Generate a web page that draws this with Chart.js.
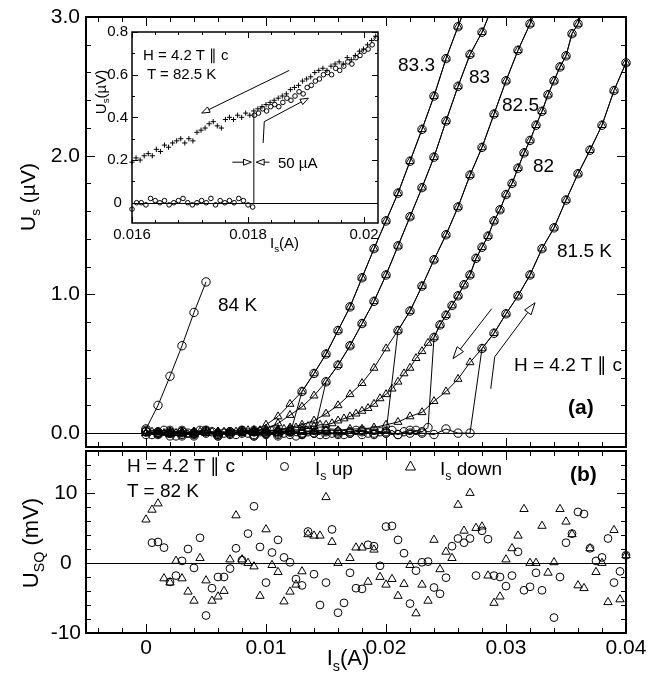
<!DOCTYPE html>
<html><head><meta charset="utf-8">
<script src="https://cdn.jsdelivr.net/npm/chart.js@4.4.1/dist/chart.umd.min.js"></script>
<style>
html,body{margin:0;padding:0;background:#fff;}
#wrap{position:relative;width:657px;height:683px;overflow:hidden;background:#fff;font-family:"Liberation Sans",Arial,Helvetica,sans-serif;color:#000;}
canvas{position:absolute;}
.t{position:absolute;line-height:1;white-space:nowrap;font-size:19px;}
.t sub{font-size:0.65em;vertical-align:-0.4em;line-height:0;}
.s15{font-size:15px;}
.b{font-weight:bold;font-size:21px;}
.rot{transform:translate(-50%,-50%) rotate(-90deg);}
.hc{transform:translateX(-50%);}
</style></head><body>
<div id="wrap">
<canvas id="cTop" width="657" height="480" style="left:0;top:-10px"></canvas>
<canvas id="cBot" width="657" height="263" style="left:0;top:420px"></canvas>
<canvas id="cIns" width="310" height="240" style="left:80px;top:16px"></canvas>

<div class="t" style="left:398px;top:54.5px">83.3</div>
<div class="t" style="left:469px;top:66.5px">83</div>
<div class="t" style="left:502px;top:94.5px">82.5</div>
<div class="t" style="left:533px;top:155.5px">82</div>
<div class="t" style="left:557px;top:240.5px">81.5 K</div>
<div class="t" style="left:218px;top:294.5px">84 K</div>
<div class="t" style="left:514px;top:354.5px">H = 4.2 T ∥ c</div>
<div class="t b" style="left:568px;top:396px">(a)</div>

<div class="t" style="left:127px;top:455.5px">H = 4.2 T ∥ c</div>
<div class="t" style="left:127px;top:480.5px">T = 82 K</div>
<div style="position:absolute;left:280px;top:461.5px;width:9px;height:9px;box-sizing:border-box;border:1px solid #000;border-radius:50%"></div>
<div class="t" style="left:315px;top:458.5px">I<sub>s</sub> up</div>
<svg style="position:absolute;left:404px;top:460px" width="13" height="12"><polygon points="6.5,1 11.5,10 1.5,10" fill="none" stroke="#000" stroke-width="1"/></svg>
<div class="t" style="left:440px;top:458.5px">I<sub>s</sub> down</div>
<div class="t b" style="left:570px;top:463px">(b)</div>

<div class="t s15" style="left:143px;top:47px">H = 4.2 T ∥ c</div>
<div class="t s15" style="left:147px;top:66px">T = 82.5 K</div>
<div class="t s15" style="left:278px;top:155px">50 µA</div>
<div class="t s15 rot" style="left:100px;top:92px">U<sub>s</sub>(µV)</div>
<div class="t s15" style="left:270px;top:235px">I<sub>s</sub>(A)</div>

<div class="t rot" style="left:27px;top:197px;font-size:21px">U<sub>s</sub> (µV)</div>
<div class="t rot" style="left:31px;top:543px;font-size:22px">U<sub>SQ</sub> (mV)</div>
<div class="t hc" style="left:348px;top:647px;font-size:22px">I<sub>s</sub>(A)</div>
</div>
<script>
// ---------------- DATA ----------------
// Panel (a): U_s (µV) vs I_s (A); "up" = circles (I_s increasing), "down" = triangles
const I_84 = [0, 0.001, 0.002, 0.003, 0.004, 0.005];
const U_84_up = [0.03, 0.20, 0.41, 0.63, 0.87, 1.09];

const I_833 = [0,0.001,0.002,0.003,0.004,0.005,0.006,0.007,0.008,0.009,0.010,0.011,0.012,0.013,0.014,0.015,0.016,0.017,0.018,0.019,0.020,0.021,0.022,0.023,0.024,0.025,0.026,0.027];
const U_833_down = [0.00,0.01,-0.01,0.00,0.01,0.00,0.01,0.00,0.01,0.02,0.06,0.12,0.21,0.30,0.43,0.57,0.74,0.91,1.12,1.33,1.53,1.73,1.96,2.19,2.43,2.70,2.93,3.16];
const U_833_up = [0.02,-0.01,0.01,-0.02,0.00,0.02,-0.01,0.00,0.01,-0.02,0.00,0.01,-0.01,0.30,0.43,0.57,0.74,0.91,1.12,1.33,1.53,1.73,1.96,2.19,2.43,2.70,2.93,3.16];

const I_83 = [0,0.001,0.002,0.003,0.004,0.005,0.006,0.007,0.008,0.009,0.010,0.011,0.012,0.013,0.014,0.015,0.016,0.017,0.018,0.019,0.020,0.021,0.022,0.023,0.024,0.025,0.026,0.027,0.028,0.029];
const U_83_down = [0.00,0.01,0.00,-0.01,0.01,0.00,0.01,0.00,0.01,0.02,0.03,0.07,0.13,0.19,0.27,0.37,0.49,0.63,0.79,0.95,1.14,1.35,1.56,1.77,1.99,2.25,2.50,2.73,2.89,3.10];
const U_83_up = [0.01,0.00,0.02,-0.01,0.00,0.01,-0.02,0.01,0.00,0.02,-0.01,0.00,0.01,-0.01,0.00,0.37,0.49,0.63,0.79,0.95,1.14,1.35,1.56,1.77,1.99,2.25,2.50,2.73,2.89,3.10];

const I_825 = [0,0.001,0.002,0.003,0.004,0.005,0.006,0.007,0.008,0.009,0.010,0.011,0.012,0.013,0.014,0.015,0.016,0.017,0.018,0.019,0.020,0.021,0.022,0.023,0.024,0.025,0.026,0.027,0.028,0.029,0.030,0.031,0.032,0.033];
const U_825_down = [0.00,0.01,0.00,0.01,-0.01,0.00,0.01,0.00,0.01,0.00,0.01,0.02,0.04,0.06,0.09,0.14,0.20,0.28,0.36,0.47,0.61,0.74,0.88,1.06,1.25,1.43,1.63,1.86,2.06,2.30,2.54,2.76,2.95,3.17];
const U_825_up = [-0.01,0.01,0.00,0.02,-0.02,0.01,0.00,-0.01,0.02,0.01,0.00,-0.02,0.01,0.00,0.02,-0.01,0.00,0.01,-0.01,0.02,0.00,0.74,0.88,1.06,1.25,1.43,1.63,1.86,2.06,2.30,2.54,2.76,2.95,3.17];

const I_82 = [0,0.0005,0.001,0.0015,0.002,0.0025,0.003,0.0035,0.004,0.0045,0.005,0.0055,0.006,0.0065,0.007,0.0075,0.008,0.0085,0.009,0.0095,0.010,0.0105,0.011,0.0115,0.012,0.0125,0.013,0.0135,0.014,0.0145,0.015,0.0155,0.016,0.0165,0.017,0.0175,0.018,0.0185,0.019,0.0195,0.020,0.0205,0.021,0.0215,0.022,0.0225,0.023,0.0235,0.024,0.0245,0.025,0.0255,0.026,0.0265,0.027,0.0275,0.028,0.0285,0.029,0.0295,0.030,0.0305,0.031,0.0315,0.032,0.0325,0.033,0.0335,0.034,0.0345,0.035,0.0355,0.036,0.0365];
const U_82_down = [0.00,0.01,-0.01,0.00,0.01,0.00,0.01,-0.01,0.00,0.01,0.00,0.01,0.00,0.01,0.00,0.01,0.01,0.02,0.01,0.02,0.02,0.02,0.03,0.03,0.03,0.04,0.04,0.05,0.05,0.06,
  0.06,0.07,0.09,0.105,0.12,0.14,0.16,0.18,0.21,0.25,0.28,0.32,0.37,0.43,0.47,0.54,0.59,0.65,
  0.69,0.78,0.85,0.92,0.99,1.07,1.14,1.26,1.34,1.42,1.53,1.61,1.72,1.80,1.91,2.02,2.11,2.22,2.32,2.44,2.54,2.64,2.72,2.88,2.95,3.08];
const U_82_up = [0.01,-0.01,0.00,0.02,0.00,-0.02,0.01,0.00,-0.01,0.02,0.00,0.01,-0.02,0.00,0.01,-0.01,0.02,0.00,-0.01,0.01,0.00,0.02,-0.01,0.00,0.01,-0.02,0.00,0.01,0.00,-0.01,0.02,0.00,0.01,-0.01,0.00,0.02,0.01,0.00,-0.01,0.01,0.00,0.02,-0.01,0.01,0.00,0.02,0.01,0.04,
  0.69,0.78,0.85,0.92,0.99,1.07,1.14,1.26,1.34,1.42,1.53,1.61,1.72,1.80,1.91,2.02,2.11,2.22,2.32,2.44,2.54,2.64,2.72,2.88,2.95,3.08];

const I_815 = [0,0.001,0.002,0.003,0.004,0.005,0.006,0.007,0.008,0.009,0.010,0.011,0.012,0.013,0.014,0.015,0.016,0.017,0.018,0.019,0.020,0.021,0.022,0.023,0.024,0.025,0.026,0.027,0.028,0.029,0.030,0.031,0.032,0.033,0.034,0.035,0.036,0.037,0.038,0.039,0.040];
const U_815_down = [0.00,0.01,-0.01,0.00,0.01,0.00,-0.01,0.01,0.00,0.01,0.00,0.01,0.01,0.02,0.01,0.02,0.02,0.03,0.03,0.04,0.06,0.08,0.12,0.15,0.23,0.30,0.39,0.51,0.61,0.72,0.86,0.99,1.14,1.33,1.48,1.68,1.87,2.04,2.22,2.47,2.67];
const U_815_up = [0.01,0.00,-0.02,0.01,0.00,0.02,-0.01,0.00,0.01,-0.02,0.00,0.01,0.02,-0.01,0.00,0.01,-0.01,0.00,0.02,0.00,0.01,-0.01,0.02,0.00,-0.01,0.03,0.00,0.00,0.61,0.72,0.86,0.99,1.14,1.33,1.48,1.68,1.87,2.04,2.22,2.47,2.67];

// Inset: T = 82.5 K
const insDownI = [0.01600,0.01607,0.01614,0.01621,0.01628,0.01635,0.01642,0.01649,0.01656,0.01663,0.01670,0.01677,0.01684,0.01691,0.01698,0.01705,0.01712,0.01719,0.01726,0.01733,0.01740,0.01747,0.01754,0.01761,0.01768,0.01775,0.01782,0.01789,0.01796,0.01803,0.01810,0.01817,0.01824,0.01831,0.01838,0.01845,0.01852,0.01859,0.01866,0.01873,0.01880,0.01887,0.01894,0.01901,0.01908,0.01915,0.01922,0.01929,0.01936,0.01943,0.01950,0.01957,0.01964,0.01971,0.01978,0.01985,0.01992,0.01999,0.02006,0.02013,0.02020];
const insDownU = [0.19,0.21,0.20,0.22,0.23,0.22,0.25,0.24,0.27,0.26,0.28,0.29,0.30,0.28,0.30,0.29,0.33,0.34,0.35,0.37,0.38,0.36,0.35,0.39,0.40,0.39,0.41,0.40,0.42,0.41,0.43,0.44,0.45,0.46,0.47,0.48,0.49,0.50,0.51,0.53,0.54,0.55,0.57,0.58,0.59,0.61,0.62,0.63,0.62,0.64,0.65,0.66,0.65,0.68,0.67,0.69,0.71,0.72,0.74,0.76,0.78];
const insUpI = [0.01600,0.01608,0.01616,0.01624,0.01632,0.01640,0.01648,0.01656,0.01664,0.01672,0.01680,0.01688,0.01696,0.01704,0.01712,0.01720,0.01728,0.01736,0.01744,0.01752,0.01760,0.01768,0.01776,0.01784,0.01792,0.01800,0.01808,
  0.01811,0.01818,0.01825,0.01832,0.01839,0.01846,0.01853,0.01860,0.01867,0.01874,0.01881,0.01888,0.01895,0.01902,0.01909,0.01916,0.01923,0.01930,0.01937,0.01944,0.01951,0.01958,0.01965,0.01972,0.01979,0.01986,0.01993,0.02000,0.02007,0.02014,0.02021];
const insUpU = [-0.03,0.00,0.00,-0.01,0.02,0.01,0.00,0.01,-0.01,0.00,0.01,0.02,0.00,-0.01,0.00,0.01,0.00,0.02,-0.01,0.01,0.00,0.01,0.00,0.02,0.01,-0.01,-0.02,
  0.41,0.42,0.44,0.43,0.45,0.46,0.45,0.47,0.49,0.48,0.50,0.52,0.51,0.54,0.55,0.57,0.58,0.60,0.61,0.60,0.63,0.62,0.64,0.66,0.65,0.68,0.69,0.71,0.72,0.74,0.77];
const insJumpI = [0.01810, 0.01810];
const insJumpU = [0.00, 0.42];

// Panel (b): U_SQ (mV) vs I_s (A), T = 82 K
const botI = [0,0.0005,0.001,0.0015,0.002,0.0025,0.003,0.0035,0.004,0.0045,0.005,0.0055,0.006,0.0065,0.007,0.0075,0.008,0.0085,0.009,0.0095,0.010,0.0105,0.011,0.0115,0.012,0.0125,0.013,0.0135,0.014,0.0145,0.015,0.0155,0.016,0.0165,0.017,0.0175,0.018,0.0185,0.019,0.0195,0.020,0.0205,0.021,0.0215,0.022,0.0225,0.023,0.0235,0.024,0.0245,0.025,0.0255,0.026,0.0265,0.027,0.0275,0.028,0.0285,0.029,0.0295,0.030,0.0305,0.031,0.0315,0.032,0.0325,0.033,0.0335,0.034,0.0345,0.035,0.0355,0.036,0.0365,0.037,0.0375,0.038,0.0385,0.039,0.0395,0.040];
const botUp = [null,2.9,3.0,2.2,-2.7,-1.8,0.3,2.0,-0.7,3.6,-7.5,-3.6,-2.0,-2.0,-0.8,2.1,0.4,4.2,8.1,2.3,-2.8,1.5,3.3,0.8,0.1,-2.3,-3.2,4.5,-1.6,-6.0,-2.8,4.8,-7.1,-5.7,-1.4,-3.6,-3.7,2.6,2.4,-0.4,5.2,5.3,3.3,1.4,-5.8,-1.1,0.1,0.2,-3.5,-4.4,-2.1,2.4,3.5,2.9,3.5,-1.8,4.6,3.4,-1.8,-2.0,-3.3,-1.8,1.6,-3.9,-3.4,-1.4,-3.9,null,-7.8,-2.0,2.9,4.2,7.3,7.0,2.1,0.3,0.8,3.5,-2.8,-1.2,1.1];
const botDown = [6.2,7.6,8.5,-2.2,-2.8,0.3,-2.2,-4.1,-5.4,0.7,-2.5,-5.4,-4.8,-4.0,0.5,6.8,0.5,0.0,-0.5,-4.7,4.8,-0.3,-1.3,-5.5,-4.1,-3.1,-1.2,4.1,3.9,3.9,9.4,3.0,0.0,null,0.7,2.2,2.2,-2.7,1.9,-2.0,-3.1,-2.3,-4.7,-3.0,-0.3,-7.2,-3.1,-5.4,3.3,-0.9,1.6,0.7,8.3,4.6,10.0,5.0,5.2,-1.8,-5.7,-4.8,0.5,2.1,3.9,7.7,0.0,0.0,5.3,-1.4,0.1,7.7,5.9,4.1,-3.2,-3.6,2.1,-1.3,0.0,-5.6,4.7,-5.2,1.1];

// Tick labels
const topYTicks = [0, 1, 2, 3];
const topYTickLabels = ['0.0', '1.0', '2.0', '3.0'];
const botXTicks = [0, 0.01, 0.02, 0.03, 0.04];
const botXTickLabels = ['0', '0.01', '0.02', '0.03', '0.04'];
const botYTicks = [-10, 0, 10];
const botYTickLabels = ['-10', '0', '10'];
const insXTicks = [0.016, 0.018, 0.020];
const insXTickLabels = ['0.016', '0.018', '0.02'];
const insYTicks = [0, 0.2, 0.4, 0.6, 0.8];
const insYTickLabels = ['0', '0.2', '0.4', '0.6', '0.8'];

// Annotation arrows (data coordinates)
const topArrows = [
  [[0.02881, 0.897], [0.02558, 0.537]],
  [[0.02873, 0.32], [0.02906, 0.55], [0.03242, 0.94]]
];
const insArrows = [
  [[0.01871, 0.62], [0.01720, 0.42]],
  [[0.01826, 0.28], [0.01828, 0.38], [0.01904, 0.49]],
  [[0.01773, 0.19], [0.01806, 0.19]],
  [[0.01837, 0.19], [0.01814, 0.19]]
];

// ---------------- RENDER ----------------
Chart.defaults.font.family = '"Liberation Sans", Arial, Helvetica, sans-serif';
Chart.defaults.color = '#000';

function pts(I, U) {
  const out = [];
  for (let i = 0; i < I.length; i++) if (U[i] !== null) out.push({x: I[i], y: U[i]});
  return out;
}
function ds(I, U, style, r, line, extra) {
  return Object.assign({
    data: pts(I, U), showLine: line, borderColor: '#000', borderWidth: 1,
    pointStyle: style, pointRadius: r, pointHoverRadius: r, pointBorderWidth: 1,
    pointBorderColor: '#000', pointBackgroundColor: 'rgba(0,0,0,0)', tension: 0,
    clip: {left: 6, right: 6, top: 0, bottom: 6}
  }, extra || {});
}
function drawArrow(ctx, x, y, path, L, W) {
  const p = path.map(q => [x.getPixelForValue(q[0]), y.getPixelForValue(q[1])]);
  const n = p.length;
  const [tx, ty] = p[n - 1], [fx, fy] = p[n - 2];
  const dx = tx - fx, dy = ty - fy, len = Math.hypot(dx, dy);
  const ux = dx / len, uy = dy / len;
  const bx = tx - ux * L, by = ty - uy * L;
  ctx.beginPath();
  ctx.moveTo(p[0][0], p[0][1]);
  for (let i = 1; i < n - 1; i++) ctx.lineTo(p[i][0], p[i][1]);
  ctx.lineTo(bx, by);
  ctx.stroke();
  ctx.beginPath();
  ctx.moveTo(bx - uy * W, by + ux * W);
  ctx.lineTo(tx, ty);
  ctx.lineTo(bx + uy * W, by - ux * W);
  ctx.closePath();
  ctx.fillStyle = '#fff';
  ctx.fill();
  ctx.stroke();
}
function decor(cfg) {
  return {
    id: 'decor',
    beforeDraw(chart) {
      if (!cfg.white) return;
      const a = chart.chartArea, ctx = chart.ctx;
      ctx.save(); ctx.fillStyle = '#fff';
      ctx.fillRect(a.left, a.top, a.right - a.left, a.bottom - a.top);
      ctx.restore();
    },
    beforeDatasetsDraw(chart) {
      const {ctx, chartArea: a, scales: {y}} = chart;
      const py = Math.round(y.getPixelForValue(0)) + 0.5;
      ctx.save(); ctx.strokeStyle = '#000'; ctx.lineWidth = 1;
      ctx.beginPath(); ctx.moveTo(a.left, py); ctx.lineTo(a.right, py); ctx.stroke();
      ctx.restore();
    },
    afterDraw(chart) {
      const {ctx, chartArea: a, scales: {x, y}} = chart;
      ctx.save(); ctx.strokeStyle = '#000'; ctx.lineWidth = 1;
      ctx.beginPath();
      for (let k = Math.ceil(x.min / cfg.xMinor - 1e-6); k * cfg.xMinor <= x.max + 1e-9; k++) {
        const v = k * cfg.xMinor, r = v / cfg.xMajor;
        const L = Math.abs(r - Math.round(r)) < 1e-6 ? cfg.maj : cfg.min;
        const px = Math.round(x.getPixelForValue(v)) + 0.5;
        ctx.moveTo(px, a.bottom); ctx.lineTo(px, a.bottom - L);
        ctx.moveTo(px, a.top); ctx.lineTo(px, a.top + L);
      }
      for (let k = Math.ceil(y.min / cfg.yMinor - 1e-6); k * cfg.yMinor <= y.max + 1e-9; k++) {
        const v = k * cfg.yMinor, r = v / cfg.yMajor;
        const L = Math.abs(r - Math.round(r)) < 1e-6 ? cfg.maj : cfg.min;
        const py = Math.round(y.getPixelForValue(v)) + 0.5;
        ctx.moveTo(a.left, py); ctx.lineTo(a.left + L, py);
        ctx.moveTo(a.right, py); ctx.lineTo(a.right - L, py);
      }
      ctx.stroke();
      ctx.lineWidth = cfg.frameW;
      ctx.strokeRect(a.left, a.top, a.right - a.left, a.bottom - a.top);
      ctx.lineWidth = 1;
      (cfg.arrows || []).forEach(p => drawArrow(ctx, x, y, p, cfg.aL, cfg.aW));
      ctx.restore();
    }
  };
}
function fixedTicks(vals) { return s => { s.ticks = vals.map(v => ({value: v})); }; }
const baseOpts = {
  responsive: false, animation: false, devicePixelRatio: 1,
  events: [],
  plugins: {legend: {display: false}, tooltip: {enabled: false}}
};

// Top panel (a)
const topSets = [
  ds(I_84, U_84_up, 'circle', 4.2, true),
  ds(I_833, U_833_down, 'triangle', 4.6, true),
  ds(I_833, U_833_up, 'circle', 4.2, true),
  ds(I_83, U_83_down, 'triangle', 4.6, true),
  ds(I_83, U_83_up, 'circle', 4.2, true),
  ds(I_825, U_825_down, 'triangle', 4.6, true),
  ds(I_825, U_825_up, 'circle', 4.2, true),
  ds(I_82, U_82_down, 'triangle', 4.6, true),
  ds(I_82, U_82_up, 'circle', 4.2, true),
  ds(I_815, U_815_down, 'triangle', 4.6, true),
  ds(I_815, U_815_up, 'circle', 4.2, true)
];
new Chart(document.getElementById('cTop'), {
  type: 'scatter',
  data: {datasets: topSets},
  options: Object.assign({}, baseOpts, {
    layout: {padding: {left: 0, top: 27, right: 31, bottom: 23}},
    scales: {
      x: {type: 'linear', display: false, min: -0.005, max: 0.04},
      y: {type: 'linear', min: -0.1, max: 3.0,
        afterBuildTicks: fixedTicks(topYTicks),
        afterFit: s => { s.width = 86; },
        grid: {display: false, drawTicks: false}, border: {display: false},
        ticks: {padding: 6, font: {size: 21}, callback: (v, i) => topYTickLabels[i]}}
    }
  }),
  plugins: [decor({xMinor: 0.002, xMajor: 0.01, yMinor: 0.2, yMajor: 1, maj: 9, min: 5, frameW: 2, arrows: topArrows, aL: 12, aW: 4})]
});

// Bottom panel (b)
new Chart(document.getElementById('cBot'), {
  type: 'scatter',
  data: {datasets: [
    ds(botI, botUp, 'circle', 3.9, false),
    ds(botI, botDown, 'triangle', 4.8, false)
  ]},
  options: Object.assign({}, baseOpts, {
    layout: {padding: {left: 0, top: 31, right: 31, bottom: 0}},
    scales: {
      x: {type: 'linear', min: -0.005, max: 0.04,
        afterBuildTicks: fixedTicks(botXTicks),
        afterFit: s => { s.height = 50; },
        grid: {display: false, drawTicks: false}, border: {display: false},
        ticks: {padding: 3, maxRotation: 0, autoSkip: false, font: {size: 21}, callback: (v, i) => botXTickLabels[i]}},
      y: {type: 'linear', min: -10, max: 16,
        afterBuildTicks: fixedTicks(botYTicks),
        afterFit: s => { s.width = 86; },
        grid: {display: false, drawTicks: false}, border: {display: false},
        ticks: {padding: 5, crossAlign: 'center', font: {size: 21}, callback: (v, i) => botYTickLabels[i]}}
    }
  }),
  plugins: [decor({xMinor: 0.002, xMajor: 0.01, yMinor: 2, yMajor: 10, maj: 9, min: 5, frameW: 2})]
});

// Inset
new Chart(document.getElementById('cIns'), {
  type: 'scatter',
  data: {datasets: [
    ds(insJumpI, insJumpU, 'circle', 0, true),
    ds(insDownI, insDownU, 'cross', 2.6, false),
    ds(insUpI, insUpU, 'circle', 2.3, false)
  ]},
  options: Object.assign({}, baseOpts, {
    layout: {padding: {left: 0, top: 16, right: 12, bottom: 0}},
    scales: {
      x: {type: 'linear', min: 0.016, max: 0.02024,
        afterBuildTicks: fixedTicks(insXTicks),
        afterFit: s => { s.height = 33; },
        grid: {display: false, drawTicks: false}, border: {display: false},
        ticks: {padding: 3, maxRotation: 0, autoSkip: false, font: {size: 15}, callback: (v, i) => insXTickLabels[i]}},
      y: {type: 'linear', min: -0.095, max: 0.8,
        afterBuildTicks: fixedTicks(insYTicks),
        afterFit: s => { s.width = 52; },
        grid: {display: false, drawTicks: false}, border: {display: false},
        ticks: {padding: 4, crossAlign: 'center', font: {size: 15}, callback: (v, i) => insYTickLabels[i]}}
    }
  }),
  plugins: [decor({white: true, xMinor: 0.0004, xMajor: 0.002, yMinor: 0.1, yMajor: 0.2, maj: 6, min: 3, frameW: 1.5, arrows: insArrows, aL: 8, aW: 3})]
});
</script>
</body></html>
